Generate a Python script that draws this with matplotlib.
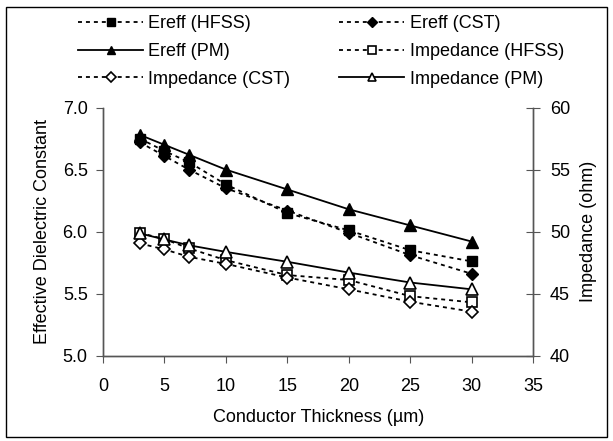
import matplotlib
matplotlib.use("Agg")
import matplotlib.pyplot as plt
from matplotlib.patches import Rectangle

plt.rcParams['font.family'] = ['Liberation Sans', 'DejaVu Sans']

thickness = [3, 5, 7, 10, 15, 20, 25, 30]
ereff_hfss = [6.75, 6.65, 6.56, 6.38, 6.15, 6.01, 5.85, 5.76]
ereff_cst = [6.72, 6.61, 6.50, 6.35, 6.17, 5.99, 5.81, 5.66]
ereff_pm = [6.78, 6.70, 6.62, 6.50, 6.34, 6.18, 6.05, 5.92]
imp_hfss = [49.9, 49.4, 48.65, 47.7, 46.5, 46.1, 44.8, 44.3]
imp_cst = [49.05, 48.57, 47.97, 47.4, 46.3, 45.35, 44.35, 43.55]
imp_pm = [49.86, 49.37, 48.9, 48.37, 47.57, 46.7, 45.9, 45.35]

FS = 13
fig = plt.figure(figsize=(6.13, 4.41), dpi=100)
fig.patches.append(Rectangle((0.0098, 0.009), 0.981, 0.975, transform=fig.transFigure,
                             fill=False, edgecolor='black', linewidth=1.0))
ax = fig.add_axes([0.168, 0.1934, 0.702, 0.5626])
ax2 = ax.twinx()

dash = (0, (2.2, 2.2))
lw = 1.3
h1, = ax.plot(thickness, ereff_hfss, linestyle=dash, color='black', lw=lw,
              marker='s', ms=7, mfc='black', mec='black', label='Ereff (HFSS)')
h2, = ax.plot(thickness, ereff_cst, linestyle=dash, color='black', lw=lw,
              marker='D', ms=6.5, mfc='black', mec='black', label='Ereff (CST)')
h3, = ax.plot(thickness, ereff_pm, linestyle='-', color='black', lw=lw,
              marker='^', ms=8, mfc='black', mec='black', label='Ereff (PM)')
h4, = ax2.plot(thickness, imp_hfss, linestyle=dash, color='black', lw=lw,
               marker='s', ms=7, mfc='white', mec='black', mew=1.2, label='Impedance (HFSS)')
h5, = ax2.plot(thickness, imp_cst, linestyle=dash, color='black', lw=lw,
               marker='D', ms=6.5, mfc='white', mec='black', mew=1.2, label='Impedance (CST)')
h6, = ax2.plot(thickness, imp_pm, linestyle='-', color='black', lw=lw,
               marker='^', ms=8, mfc='white', mec='black', mew=1.2, label='Impedance (PM)')

ax.set_xlim(0, 35)
ax.set_ylim(5.0, 7.0)
ax2.set_ylim(40, 60)
ax.set_xticks(range(0, 36, 5))
ax.set_yticks([5.0, 5.5, 6.0, 6.5, 7.0])
ax.set_yticklabels(['5.0', '5.5', '6.0', '6.5', '7.0'])
ax2.set_yticks([40, 45, 50, 55, 60])

for a in (ax, ax2):
    a.spines['top'].set_visible(False)
    for s in a.spines.values():
        s.set_color('#555555')
        s.set_linewidth(1.0)
ax.tick_params(axis='y', direction='out', length=5, labelsize=FS, color='#555555', pad=6)
ax.tick_params(axis='x', direction='out', length=5, labelsize=FS, color='#555555', pad=11)
ax2.tick_params(axis='y', direction='inout', length=10, labelsize=FS, color='#555555', pad=7)

ax.set_xlabel('Conductor Thickness (µm)', fontsize=FS, labelpad=10)
ax.set_ylabel('Effective Dielectric Constant', fontsize=FS, labelpad=8)
ax2.set_ylabel('Impedance (ohm)', fontsize=FS, labelpad=7)

fig.legend(handles=[h1, h3, h5, h2, h4, h6], loc='upper left',
           bbox_to_anchor=(78 / 613, 1 - 15 / 441), ncol=2, frameon=False,
           fontsize=FS, handlelength=3.6, columnspacing=2.7, borderpad=0,
           borderaxespad=0, handletextpad=0.3, labelspacing=0.6, markerscale=0.75)

fig.savefig('out.png', dpi=100)
